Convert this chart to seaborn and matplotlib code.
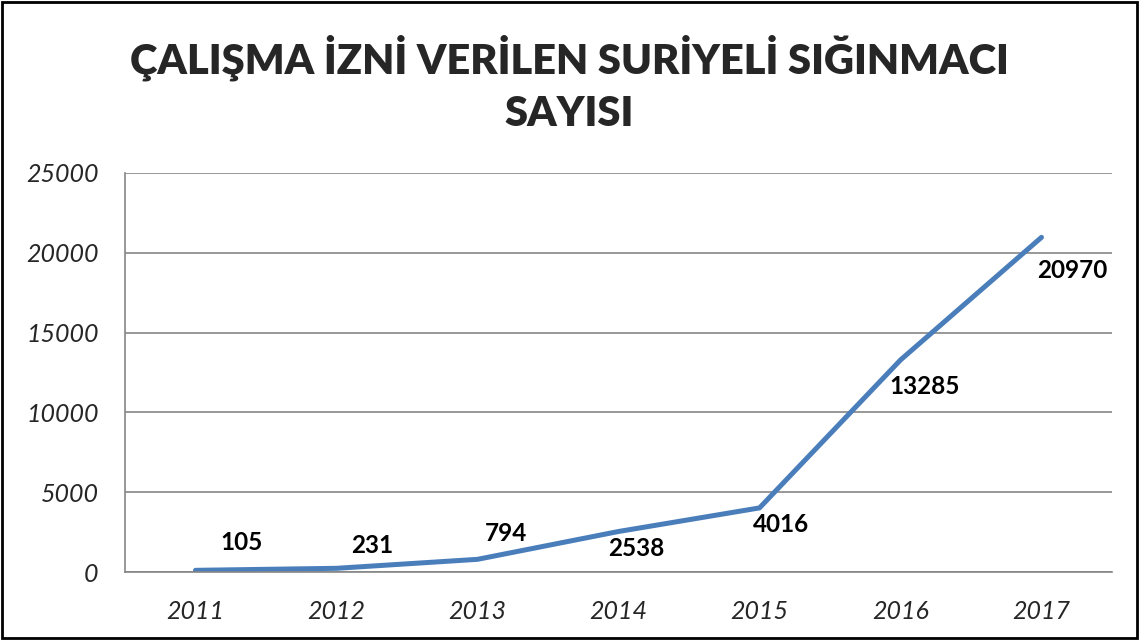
import pandas as pd
import matplotlib
matplotlib.use('Agg')
import matplotlib.pyplot as plt
import seaborn as sns
from matplotlib.ticker import FixedLocator

# Veriler
years = ['2011', '2012', '2013', '2014', '2015', '2016', '2017']
permits = [105, 231, 794, 2538, 4016, 13285, 20970]
# etiket kaydırmaları (piksel)
label_dx = [46, 36, 28, 18, 21, 24, 31]
label_dy = [28, 23, 26, -17, -17, -27, -33]

title = 'ÇALIŞMA İZNİ VERİLEN SURİYELİ SIĞINMACI\nSAYISI'

df = pd.DataFrame({'yil': years, 'izin': permits})

sns.set_style('white')
plt.rcParams['font.family'] = ['Lato', 'DejaVu Sans']

fig = plt.figure(figsize=(11.39, 6.4), dpi=100)
ax = fig.add_axes([125 / 1139, 1 - 572 / 640, (1112 - 125) / 1139, (572 - 173) / 640])

sns.lineplot(data=df, x='yil', y='izin', ax=ax, color='#4A7EBB', linewidth=3.6, sort=False)

ax.set_xlim(-0.5, 6.5)
ax.set_ylim(0, 25000)
ax.set_yticks(range(0, 25001, 5000))
ax.set_xticks(range(len(years)))
ax.set_xticklabels(years, fontsize=18, style='italic')
ax.tick_params(axis='x', which='major', length=0, pad=20)
ax.xaxis.set_minor_locator(FixedLocator([i - 0.5 for i in range(len(years) + 1)]))
ax.tick_params(axis='x', which='minor', length=7, color='#868686', width=1.2, direction='out')
ax.tick_params(axis='y', length=7, color='#868686', width=1.2, direction='out', pad=12)
for lab in ax.get_yticklabels():
    lab.set_fontsize(18)
    lab.set_style('italic')
ax.grid(axis='y', color='#868686', linewidth=1.2)
ax.set_axisbelow(True)
ax.set_xlabel('')
ax.set_ylabel('')
for s in ['top', 'right']:
    ax.spines[s].set_visible(False)
for s in ['left', 'bottom']:
    ax.spines[s].set_color('#868686')
    ax.spines[s].set_linewidth(1.2)

# veri etiketleri
for i, v in enumerate(permits):
    ax.annotate(str(v), (i, v), xytext=(label_dx[i] * 0.72, label_dy[i] * 0.72),
                textcoords='offset points', ha='center', va='center',
                fontsize=17.5, fontweight='bold', color='black')

fig.text(0.5, 1 - 84 / 640, title, ha='center', va='center', fontsize=30,
         fontweight='heavy', linespacing=1.45)

# çerçeve
fig.patches.append(plt.Rectangle((0.002, 0.003), 0.996, 0.994, transform=fig.transFigure,
                                 fill=False, edgecolor='black', linewidth=2))

fig.savefig('out.png', dpi=100)
